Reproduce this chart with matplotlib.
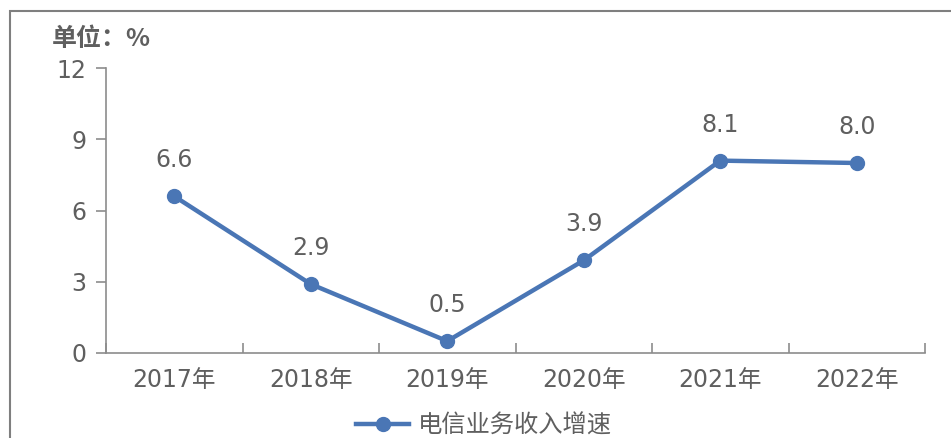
import matplotlib.pyplot as plt
from matplotlib.patches import Rectangle
import numpy as np

# Data
years = ['2017年', '2018年', '2019年', '2020年', '2021年', '2022年']
growth = [6.6, 2.9, 0.5, 3.9, 8.1, 8.0]
y_ticks = [0, 3, 6, 9, 12]

plt.rcParams['font.family'] = ['DejaVu Sans', 'Noto Sans CJK SC']

text_color = '#5f5f5f'
axis_color = '#8c8c8c'
line_color = '#4a76b5'

fig = plt.figure(figsize=(9.51, 4.38), dpi=100)
ax = fig.add_axes([106 / 951, 85 / 438, 819 / 951, 285 / 438])

# Outer frame (top and left visible, cut at right/bottom)
fig.patches.append(Rectangle((10 / 951, -0.05), 1.1, (438 - 11) / 438 + 0.05,
                             transform=fig.transFigure, fill=False,
                             edgecolor='#7f7f7f', linewidth=1.5))

x = np.arange(len(years))
ax.plot(x, growth, color=line_color, linewidth=3.2, marker='o',
        markersize=10, label='电信业务收入增速')

for xi, v in zip(x, growth):
    ax.annotate(f'{v:.1f}', (xi, v), xytext=(0, 26), textcoords='offset points',
                ha='center', va='center', fontsize=17, color=text_color)

ax.set_xlim(-0.5, len(years) - 0.5)
ax.set_ylim(0, 12)
ax.set_yticks(y_ticks)
ax.set_xticks(x)
ax.set_xticklabels(years)
ax.set_xticks(np.arange(len(years) + 1) - 0.5, minor=True)

for side in ['top', 'right']:
    ax.spines[side].set_visible(False)
for side in ['left', 'bottom']:
    ax.spines[side].set_color(axis_color)
    ax.spines[side].set_linewidth(1.2)

ax.tick_params(axis='y', direction='out', length=7, width=1.2, color=axis_color,
               labelsize=17, labelcolor=text_color, pad=7)
ax.tick_params(axis='x', which='major', length=0, labelsize=17,
               labelcolor=text_color, pad=11)
ax.tick_params(axis='x', which='minor', direction='in', length=7, width=1.2,
               color=axis_color)

fig.text(52 / 951, 1 - 39 / 438, '单位：%', fontsize=18, fontweight='bold',
         color=text_color, ha='left', va='center',
         family=['Noto Sans CJK SC', 'DejaVu Sans'])

fig.legend(loc='center', bbox_to_anchor=(484 / 951, 1 - 426 / 438), frameon=False,
           labelcolor=text_color, handlelength=2.2, handletextpad=0.35,
           prop={'family': ['Noto Sans CJK SC', 'DejaVu Sans'], 'size': 17.5})

plt.savefig('out.png', dpi=100)
plt.close(fig)
